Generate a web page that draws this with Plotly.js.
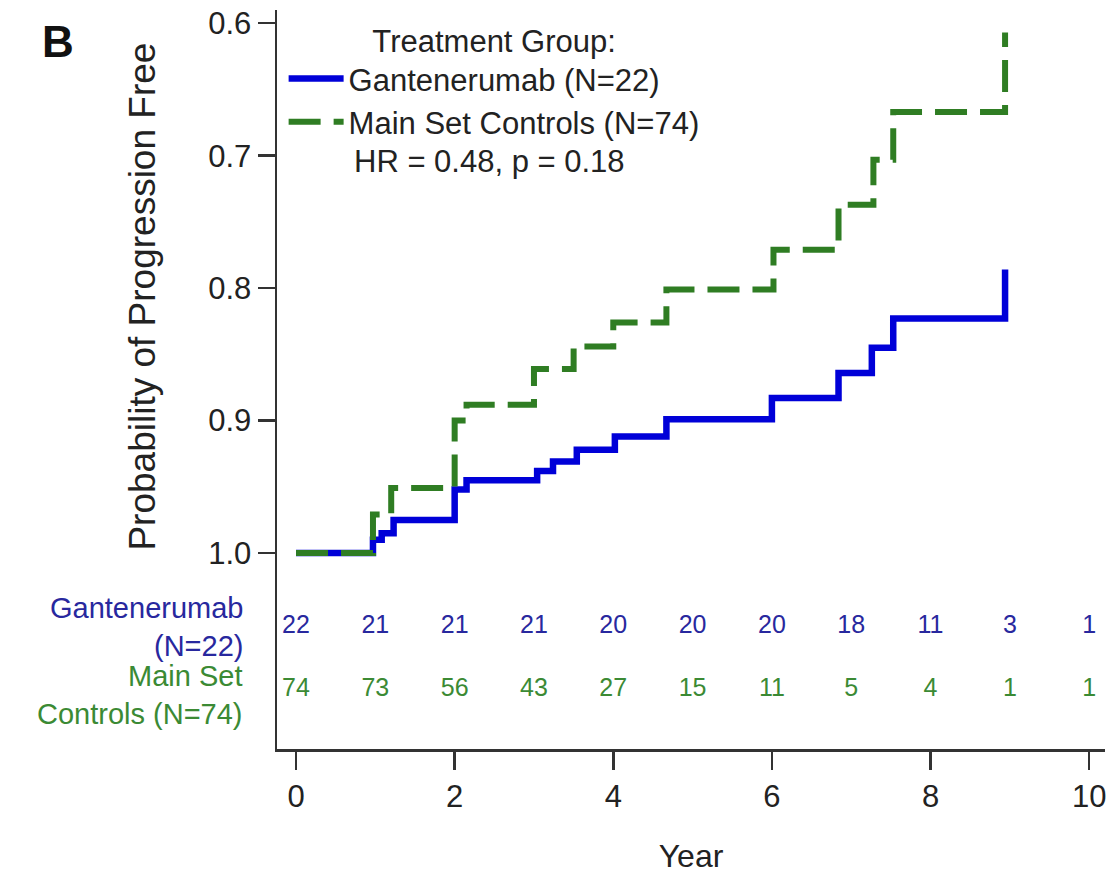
<!DOCTYPE html>
<html>
<head>
<meta charset="utf-8">
<script src="https://cdn.plot.ly/plotly-3.0.1.min.js"></script>
<style>
  html, body { margin: 0; padding: 0; background: #ffffff; }
  #chart { width: 1119px; height: 882px; }
</style>
</head>
<body>
<div id="chart"></div>
<script>
// Kaplan-Meier style step curves: probability of remaining progression free
const ganTime = [0, 0.97, 1.08, 1.23, 2.0, 2.15, 3.04, 3.24, 3.54, 4.02, 4.67, 6.0, 6.84, 7.26, 7.53, 8.94];
const ganSurv = [1.0, 0.99, 0.985, 0.975, 0.952, 0.945, 0.938, 0.931, 0.922, 0.912, 0.899, 0.883, 0.864, 0.845, 0.823, 0.786];

const ctlTime = [0, 0.97, 1.2, 2.0, 2.15, 3.0, 3.5, 4.0, 4.67, 6.02, 6.84, 7.28, 7.53, 8.94];
const ctlSurv = [1.0, 0.971, 0.951, 0.90, 0.888, 0.861, 0.844, 0.826, 0.801, 0.771, 0.737, 0.703, 0.667, 0.607];

// Numbers at risk, one per year
const riskYears = [0, 1, 2, 3, 4, 5, 6, 7, 8, 9, 10];
const ganAtRisk = [22, 21, 21, 21, 20, 20, 20, 18, 11, 3, 1];
const ctlAtRisk = [74, 73, 56, 43, 27, 15, 11, 5, 4, 1, 1];

const xTicks = [0, 2, 4, 6, 8, 10];
const yTicks = [0.6, 0.7, 0.8, 0.9, 1.0];
const yTickText = ['0.6', '0.7', '0.8', '0.9', '1.0'];

const ganName = 'Gantenerumab (N=22)';
const ctlName = 'Main Set Controls (N=74)';
const statsText = 'HR = 0.48, p = 0.18';

const BLUE = '#0000d8';
const GREEN = '#2f7d23';
const BLUE_TXT = '#28289e';
const GREEN_TXT = '#3b8a34';
const FONT = 'Liberation Sans, Arial, sans-serif';

// rows of the at-risk table sit below the 1.0 line, inside the plot area
const ganRowY = 1.056;
const ctlRowY = 1.103;

const traces = [
  {
    x: ganTime, y: ganSurv, name: ganName, type: 'scatter', mode: 'lines',
    line: { shape: 'hv', color: BLUE, width: 6.5 }
  },
  {
    x: ctlTime, y: ctlSurv, name: ctlName, type: 'scatter', mode: 'lines',
    line: { shape: 'hv', color: GREEN, width: 6, dash: '32px,13px' }
  },
  {
    x: riskYears, y: riskYears.map(() => ganRowY), text: ganAtRisk.map(String),
    type: 'scatter', mode: 'text', showlegend: false, cliponaxis: false, hoverinfo: 'skip',
    textfont: { family: FONT, size: 25, color: BLUE_TXT }
  },
  {
    x: riskYears, y: riskYears.map(() => ctlRowY), text: ctlAtRisk.map(String),
    type: 'scatter', mode: 'text', showlegend: false, cliponaxis: false, hoverinfo: 'skip',
    textfont: { family: FONT, size: 25, color: GREEN_TXT }
  }
];

const layout = {
  width: 1119, height: 882,
  margin: { l: 277, r: 14, t: 10, b: 133 },
  paper_bgcolor: '#ffffff', plot_bgcolor: '#ffffff',
  font: { family: FONT, size: 30, color: '#222222' },
  showlegend: true,
  legend: {
    x: 0.008, y: 0.998, xanchor: 'left', yanchor: 'top',
    bgcolor: 'rgba(0,0,0,0)', itemwidth: 55,
    font: { family: FONT, size: 31, color: '#222222' },
    title: { text: 'Treatment Group:', side: 'top center', font: { family: FONT, size: 31, color: '#222222' } }
  },
  xaxis: {
    range: [-0.24, 10.2], tickvals: xTicks, ticks: 'outside', ticklen: 18, tickwidth: 2.5,
    tickcolor: '#333333', showline: true, linecolor: '#333333', linewidth: 2.5,
    showgrid: false, zeroline: false,
    tickfont: { family: FONT, size: 31, color: '#222222' },
    title: { text: 'Year', standoff: 32, font: { family: FONT, size: 32, color: '#222222' } }
  },
  yaxis: {
    range: [1.148, 0.590], tickvals: yTicks, ticktext: yTickText, ticks: 'outside',
    ticklen: 17, tickwidth: 2.5, tickcolor: '#333333', showline: true,
    linecolor: '#333333', linewidth: 2.5, showgrid: false, zeroline: false,
    tickfont: { family: FONT, size: 31, color: '#222222' }
  },
  annotations: [
    {
      text: 'Probability of Progression Free', textangle: -90,
      xref: 'paper', yref: 'paper', x: -0.162, y: 0.612, xanchor: 'center', yanchor: 'middle',
      showarrow: false, font: { family: FONT, size: 37, color: '#222222' }
    },
    {
      text: '<b>B</b>', xref: 'paper', yref: 'paper', x: -0.2645, y: 0.957,
      xanchor: 'center', yanchor: 'middle', showarrow: false,
      font: { family: FONT, size: 44, color: '#111111' }
    },
    {
      text: statsText, xref: 'paper', yref: 'paper', x: 0.091, y: 0.795,
      xanchor: 'left', yanchor: 'middle', showarrow: false,
      font: { family: FONT, size: 31, color: '#222222' }
    },
    {
      text: 'Gantenerumab<br>(N=22)', xref: 'paper', yref: 'y', x: -0.039, y: ganRowY,
      xanchor: 'right', yanchor: 'middle', align: 'right', showarrow: false,
      font: { family: FONT, size: 29, color: BLUE_TXT }
    },
    {
      text: 'Main Set<br>Controls (N=74)', xref: 'paper', yref: 'y', x: -0.039, y: 1.107,
      xanchor: 'right', yanchor: 'middle', align: 'right', showarrow: false,
      font: { family: FONT, size: 29, color: GREEN_TXT }
    }
  ]
};

Plotly.newPlot('chart', traces, layout, { displayModeBar: false, staticPlot: true });
</script>
</body>
</html>
